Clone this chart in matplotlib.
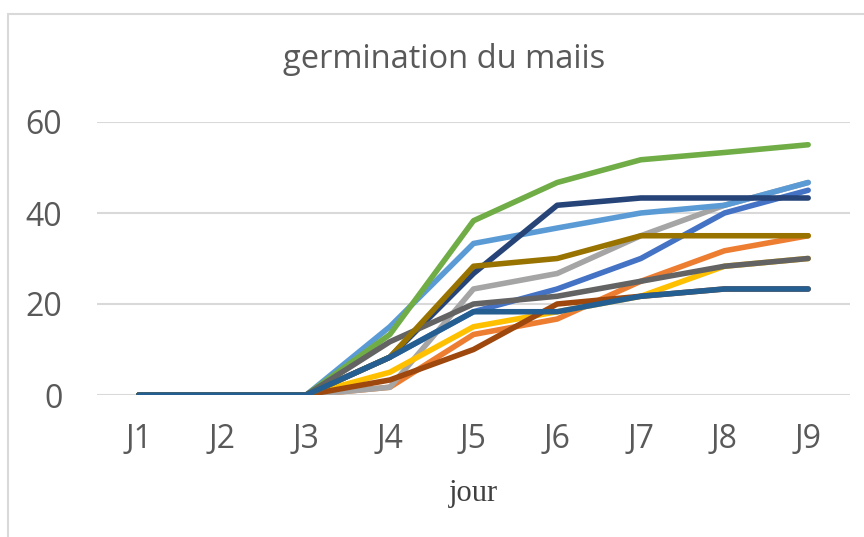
import matplotlib
matplotlib.use("Agg")
import matplotlib.pyplot as plt
from matplotlib.patches import Rectangle

days = ["J1", "J2", "J3", "J4", "J5", "J6", "J7", "J8", "J9"]

s1 = [0, 0, 0, 8.3, 18.3, 23.3, 30.0, 40.0, 45.0]
s2 = [0, 0, 0, 1.7, 13.3, 16.7, 25.0, 31.7, 35.0]
s3 = [0, 0, 0, 1.7, 23.3, 26.7, 35.0, 41.7, 46.7]
s4 = [0, 0, 0, 5.0, 15.0, 18.3, 21.7, 28.3, 30.0]
s5 = [0, 0, 0, 15.0, 33.3, 36.7, 40.0, 41.7, 46.7]
s6 = [0, 0, 0, 13.3, 38.3, 46.7, 51.7, 53.3, 55.0]
s7 = [0, 0, 0, 8.3, 26.7, 41.7, 43.3, 43.3, 43.3]
s8 = [0, 0, 0, 3.3, 10.0, 20.0, 21.7, 23.3, 23.3]
s9 = [0, 0, 0, 11.7, 20.0, 21.7, 25.0, 28.3, 30.0]
s10 = [0, 0, 0, 8.3, 28.3, 30.0, 35.0, 35.0, 35.0]
s11 = [0, 0, 0, 8.3, 18.3, 18.3, 21.7, 23.3, 23.3]

series = [s1, s2, s3, s4, s5, s6, s7, s8, s9, s10, s11]
colors = ["#4472C4", "#ED7D31", "#A5A5A5", "#FFC000", "#5B9BD5", "#70AD47",
          "#264478", "#9E480E", "#636363", "#997300", "#255E91"]

yticks = [0, 20, 40, 60]

fig = plt.figure(figsize=(8.64, 5.37), dpi=100)
fig.patch.set_facecolor("white")
ax = fig.add_axes([97 / 864, 1 - 395 / 537, (850 - 97) / 864, (395 - 122) / 537])

x = list(range(len(days)))
for vals, c in zip(series, colors):
    ax.plot(x, vals, color=c, lw=4.0, solid_capstyle="round", solid_joinstyle="round", zorder=3)

ax.set_xlim(-0.5, len(days) - 0.5)
ax.set_ylim(0, 60)
ax.set_yticks(yticks)
ax.set_xticks(x)
ax.set_xticklabels(days)
ax.yaxis.grid(True, color="#D9D9D9", lw=1.5)
ax.set_axisbelow(True)
for sp in ax.spines.values():
    sp.set_visible(False)
ax.tick_params(axis="both", length=0, colors="#595959", labelsize=23)
for lab in ax.get_xticklabels() + ax.get_yticklabels():
    lab.set_family(["Open Sans", "DejaVu Sans"])
ax.tick_params(axis="y", pad=25)
ax.tick_params(axis="x", pad=20)

fig.text(444 / 864, 1 - 60 / 537, "germination du maiis", ha="center", va="center",
         fontsize=23.5, color="#595959", family=["Open Sans", "DejaVu Sans"])
fig.text(473 / 864, 1 - 493 / 537, "jour", ha="center", va="center",
         fontsize=22, color="#404040", family=["Liberation Serif", "DejaVu Serif"])

fig.patches.append(Rectangle((8 / 864, -0.2), 1.5, 1.2 - 14 / 537, transform=fig.transFigure,
                             fill=False, edgecolor="#D9D9D9", lw=1.5, zorder=0))

fig.savefig("out.png", dpi=100)
